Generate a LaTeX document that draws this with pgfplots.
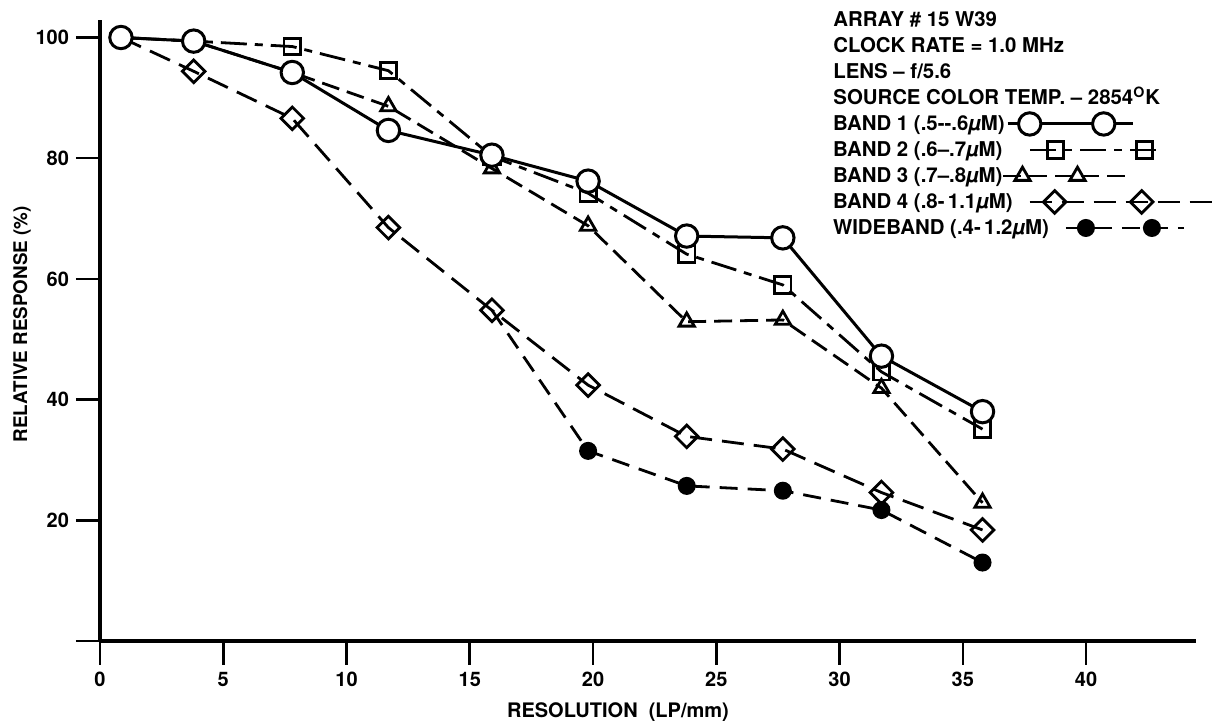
\documentclass[border=0pt]{standalone}
\usepackage{pgfplots}
\pgfplotsset{compat=1.18}
\usepackage{fontspec}
\setmainfont{TeX Gyre Heros}
\newcommand{\lf}{\bfseries\fontsize{10.2}{13}\selectfont}
\newcommand{\legrow}[6]{%
  \path[draw=none, fill=none] (0,-3pt) rectangle (1pt,10pt);
  \node[anchor=base west, inner sep=0pt, font=\lf, draw=none, fill=none] (t) at (0,0) {#2};
  \begin{scope}[shift={(t.base east)}]
    \draw[#1, mark=none] (#3,3.5pt) -- (#6,3.5pt);
    \draw[#1, mark phase=1, mark repeat=1] plot coordinates {(#4,3.5pt)};
    \draw[#1, mark phase=1, mark repeat=1] plot coordinates {(#5,3.5pt)};
  \end{scope}
}
\pgfplotsset{
  legwide/.style={legend image code/.code={\legrow{##1}{WIDEBAND (.4-\,1.2\textit{µ}M)}{8.5pt}{18.5pt}{51.5pt}{67.5pt}}},
  legfour/.style={legend image code/.code={\legrow{##1}{BAND 4 (.8-\,1.1\textit{µ}M)}{8.5pt}{21pt}{64.5pt}{100pt}}},
  legthree/.style={legend image code/.code={\legrow{##1}{BAND 3 (.7--.8\textit{µ}M)}{0.5pt}{10pt}{37.5pt}{65pt}}},
  legtwo/.style={legend image code/.code={\legrow{##1}{BAND 2 (.6--.7\textit{µ}M)}{14pt}{26.5pt}{71pt}{77.5pt}}},
  legone/.style={legend image code/.code={\legrow{##1}{BAND 1 (.5-{}-.6\textit{µ}M)}{1.5pt}{12.5pt}{49.5pt}{64pt}}},
}
\begin{document}
\begin{tikzpicture}
\begin{axis}[
  scale only axis,
  width=548pt, height=310.5pt,
  at={(0pt,0pt)}, anchor=south west,
  xmin=0, xmax=44.46, ymin=0, ymax=102.9,
  axis x line=bottom, axis y line=left,
  axis line style={-, line width=2.4pt},
  tick align=outside,
  major tick length=12pt,
  tick style={line width=1.3pt, black},
  xtick={0,5,...,40},
  ytick={0,20,...,100},
  yticklabels={,20,40,60,80,100},
  /pgf/number format/assume math mode=true,
  tick label style={font=\bfseries\fontsize{10}{12}\selectfont},
  xlabel={RESOLUTION\ \ (LP/mm)},
  ylabel={RELATIVE RESPONSE (\%)},
  every axis x label/.style={at={(rel axis cs:0.4726,-0.1143)},anchor=center,font=\bfseries\fontsize{10}{12}\selectfont},
  every axis y label/.style={at={(rel axis cs:-0.0712,0.51)},rotate=90,anchor=center,font=\bfseries\fontsize{9.4}{12}\selectfont},
  clip=false,
  legend style={at={(0.6688,0.8535)}, anchor=north west, draw=none, fill=none, inner sep=0pt, outer sep=0pt, row sep=0pt, column sep=0pt, nodes={inner sep=0pt}},
  legend plot pos=left,
  legend cell align=left,
  reverse legend,
]
% WIDEBAND
\addplot[black, line width=1.4pt, dash pattern=on 9pt off 5pt, mark=*, mark size=3.8pt,
  mark options={solid, fill=black}, mark phase=2, legwide]
  coordinates {(15.9,54.8) (19.8,31.5) (23.8,25.7) (27.7,24.9) (31.7,21.7) (35.8,13.0)};
\addlegendentry{}
% BAND 4
\addplot[black, line width=1.4pt, dash pattern=on 11pt off 5pt, mark=square, mark size=4.0pt,
  mark options={solid, fill=white, rotate=45}, mark phase=2, legfour]
  coordinates {(0.85,100) (3.8,94.4) (7.8,86.6) (11.7,68.5) (15.9,54.8) (19.8,42.4) (23.8,33.9) (27.7,31.8) (31.7,24.6) (35.8,18.4)};
\addlegendentry{}
% BAND 3
\addplot[black, line width=1.4pt, dash pattern=on 9pt off 4pt, mark=triangle, mark size=4.4pt,
  mark options={solid, fill=white}, legthree]
  coordinates {(0.85,100) (3.8,99.4) (7.8,94.2) (11.7,88.6) (15.9,78.3) (19.8,68.8) (23.8,52.9) (27.7,53.2) (31.7,41.9) (35.8,22.9)};
\addlegendentry{}
% BAND 2
\addplot[black, line width=1.4pt, dash pattern=on 13pt off 4pt on 4pt off 4pt, mark=square, mark size=4.1pt,
  mark options={solid, fill=white}, mark phase=3, legtwo]
  coordinates {(0.85,100) (3.8,99.4) (7.8,98.5) (11.7,94.5) (15.9,80.3) (19.8,74.2) (23.8,64.1) (27.7,59.0) (31.7,44.6) (35.8,35.1)};
\addlegendentry{}
% BAND 1
\addplot[black, line width=1.5pt, solid, mark=*, mark size=5.6pt,
  mark options={solid, fill=white}, legone]
  coordinates {(0.85,100) (3.8,99.4) (7.8,94.2) (11.7,84.6) (15.9,80.5) (19.8,76.2) (23.8,67.1) (27.7,66.8) (31.7,47.2) (35.8,38.0)};
\addlegendentry{}
\end{axis}
\node[anchor=base west, inner sep=0pt, font=\lf] at (366.5pt,307pt) {ARRAY \# 15 W39};
\node[anchor=base west, inner sep=0pt, font=\lf] at (366.5pt,294pt) {CLOCK RATE = 1.0 MHz};
\node[anchor=base west, inner sep=0pt, font=\lf] at (366.5pt,281pt) {LENS -- f/5.6};
\node[anchor=base west, inner sep=0pt, font=\lf] at (366.5pt,268pt) {SOURCE COLOR TEMP. -- 2854\textsuperscript{O}K};
\pgfresetboundingbox
\useasboundingbox (-50pt,-40.5pt) rectangle (561.5pt,320.5pt);
\end{tikzpicture}
\end{document}
